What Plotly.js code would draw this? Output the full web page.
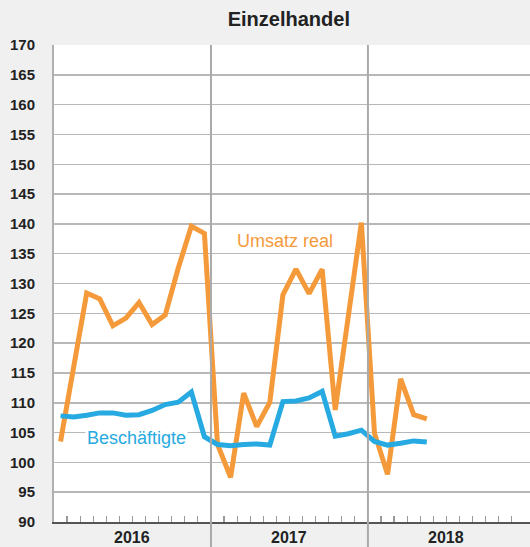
<!DOCTYPE html>
<html>
<head>
<meta charset="utf-8">
<script src="https://cdn.plot.ly/plotly-3.0.1.min.js"></script>
<style>
html,body{margin:0;padding:0;background:#f0f0f0;}
#chart{width:530px;height:547px;}
</style>
</head>
<body>
<div id="chart"></div>
<script>
// Monthly values Jan 2016 – May 2018
const months = ['2016-01','2016-02','2016-03','2016-04','2016-05','2016-06','2016-07','2016-08','2016-09','2016-10','2016-11','2016-12',
                '2017-01','2017-02','2017-03','2017-04','2017-05','2017-06','2017-07','2017-08','2017-09','2017-10','2017-11','2017-12',
                '2018-01','2018-02','2018-03','2018-04','2018-05'];
const umsatzReal = [103.5, 116.0, 128.4, 127.4, 122.9, 124.2, 126.8, 123.1, 124.7, 132.6, 139.6, 138.4,
                    103.0, 97.5, 111.6, 106.0, 110.1, 128.1, 132.4, 128.3, 132.4, 108.8, 124.5, 140.2,
                    104.9, 98.0, 114.0, 108.0, 107.3];
const beschaeftigte = [107.8, 107.6, 107.9, 108.3, 108.3, 107.9, 108.0, 108.7, 109.7, 110.1, 111.8, 104.3,
                       103.0, 102.8, 103.0, 103.1, 102.9, 110.2, 110.3, 110.8, 111.9, 104.4, 104.8, 105.4,
                       103.5, 102.9, 103.2, 103.6, 103.4];
const years = ['2016', '2017', '2018'];
const seriesNames = ['Umsatz real', 'Beschäftigte'];
const yTicks = [90,95,100,105,110,115,120,125,130,135,140,145,150,155,160,165,170];

// month index position (center of each month)
const xPos = months.map((m, i) => i + 0.5);

const orange = '#f59a3a';
const blue = '#27aae1';

const traces = [
  {x: xPos, y: umsatzReal, type: 'scatter', mode: 'lines', name: seriesNames[0],
   line: {color: orange, width: 5}, hoverinfo: 'skip'},
  {x: xPos, y: beschaeftigte, type: 'scatter', mode: 'lines', name: seriesNames[1],
   line: {color: blue, width: 5}, hoverinfo: 'skip'}
];

// month boundary ticks (not at year boundaries)
const monthTicks = [];
for (let k = 1; k < 37; k++) if (k % 12 !== 0) monthTicks.push(k);

const shapes = years.slice(1).map((y, i) => ({
  type: 'line', xref: 'x', yref: 'paper', x0: (i + 1) * 12, x1: (i + 1) * 12,
  y0: -0.055, y1: 1, line: {color: '#aaaaaa', width: 2}, layer: 'above'
}));

const annotations = years.map((y, i) => ({
  text: '<b>' + y + '</b>', xref: 'x', yref: 'paper', x: i * 12 + 6, y: 0,
  yanchor: 'top', yshift: -5, showarrow: false,
  font: {family: 'Liberation Sans, Arial, sans-serif', size: 16, color: '#222'}
}));
annotations.push({
  text: seriesNames[0], xref: 'x', yref: 'y', x: 17.66, y: 137.2, showarrow: false,
  font: {family: 'Liberation Sans, Arial, sans-serif', size: 18, color: orange}
});
annotations.push({
  text: seriesNames[1], xref: 'x', yref: 'y', x: 6.31, y: 104.1, showarrow: false,
  bgcolor: '#ffffff', borderpad: 1,
  font: {family: 'Liberation Sans, Arial, sans-serif', size: 18, color: blue}
});

const layout = {
  width: 530, height: 547,
  margin: {l: 54, r: 0, t: 45, b: 25},
  paper_bgcolor: '#f0f0f0', plot_bgcolor: '#ffffff',
  showlegend: false,
  title: {text: '<b>Einzelhandel</b>', x: 0.545, xanchor: 'center', y: 0.965, yanchor: 'middle',
          font: {family: 'Liberation Sans, Arial, sans-serif', size: 20, color: '#222'}},
  xaxis: {range: [0, 36.39], showgrid: false, zeroline: false,
          tickmode: 'array', tickvals: monthTicks, ticks: 'inside', ticklen: 6, tickwidth: 1.2,
          tickcolor: '#999', showticklabels: false,
          showline: true, linecolor: '#555', linewidth: 2, fixedrange: true},
  yaxis: {range: [90, 170], tickmode: 'array', tickvals: yTicks, ticktext: yTicks.map(String),
          showgrid: true, gridcolor: '#b8b8b8', gridwidth: 1.5, zeroline: false,
          showline: true, linecolor: '#b0b0b0', linewidth: 2, ticks: '', ticklabelstandoff: 14,
          tickfont: {family: 'Liberation Sans, Arial, sans-serif', size: 15, color: '#222', weight: 'bold'},
          fixedrange: true},
  shapes: shapes,
  annotations: annotations
};

Plotly.newPlot('chart', traces, layout, {staticPlot: true, displayModeBar: false});
</script>
</body>
</html>
